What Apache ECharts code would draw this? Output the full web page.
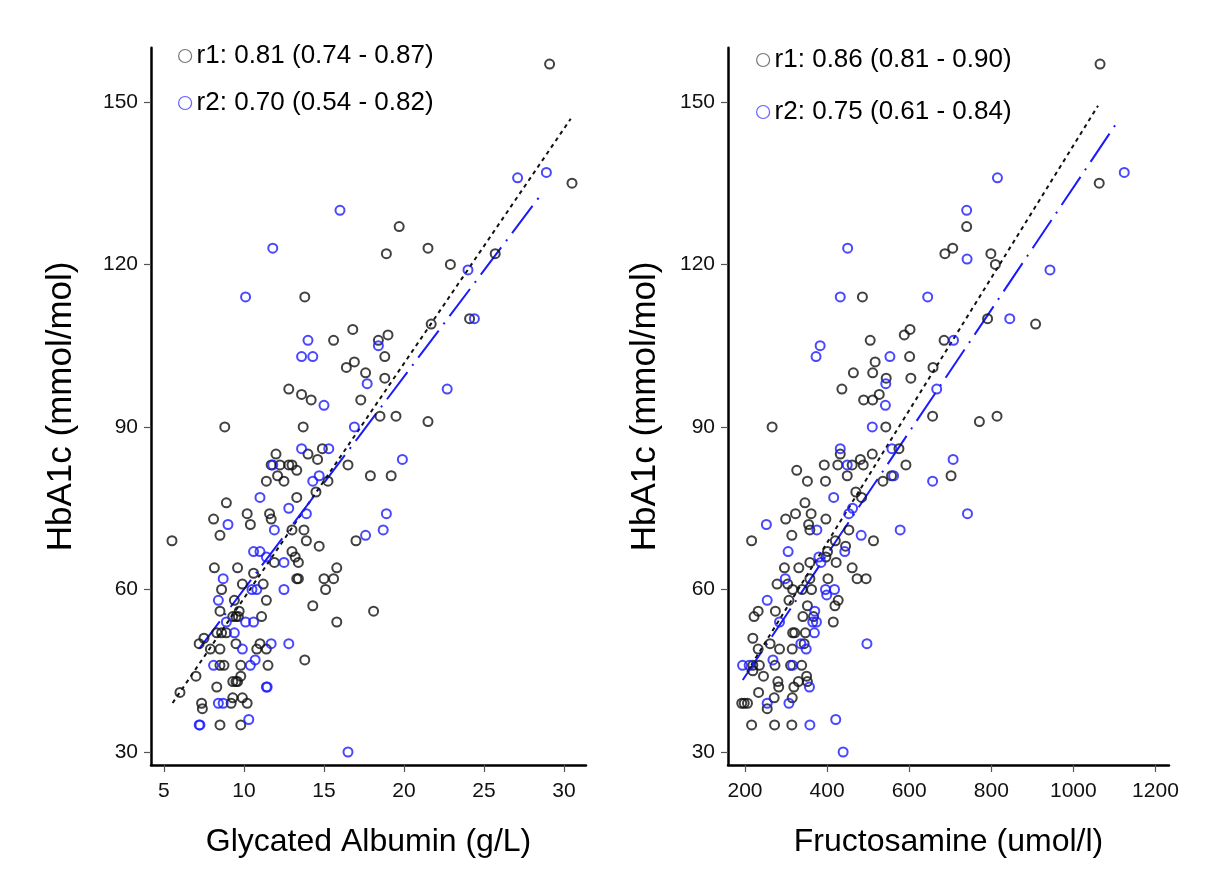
<!DOCTYPE html>
<html>
<head>
<meta charset="utf-8">
<script src="https://cdn.jsdelivr.net/npm/echarts@6/dist/echarts.min.js"></script>
<style>
html,body{margin:0;padding:0;background:#fff;}
#chart{width:1206px;height:879px;}
</style>
</head>
<body>
<div id="chart"></div>
<script>
// ---------- data ----------
const legendLeft = ['r1: 0.81 (0.74 - 0.87)', 'r2: 0.70 (0.54 - 0.82)'];
const legendRight = ['r1: 0.86 (0.81 - 0.90)', 'r2: 0.75 (0.61 - 0.84)'];
const titleLeftX = 'Glycated Albumin (g/L)';
const titleRightX = 'Fructosamine (umol/l)';
const titleY = 'HbA1c (mmol/mol)';
const ticksGA = [5, 10, 15, 20, 25, 30];
const ticksFru = [200, 400, 600, 800, 1000, 1200];
const ticksY = [30, 60, 90, 120, 150];

const gaGroup1 = [
 [29.1,157],[30.5,135],[19.7,127],[18.9,122],[21.5,123],[22.9,120],[25.7,122],
 [13.8,114],[16.8,108],[15.6,106],[16.4,101],[16.9,102],[17.6,100],[12.8,97],[13.6,96],[14.2,95],[17.3,95],
 [8.8,90],[13.7,90],[12.0,85],[14.0,85],[14.9,86],[14.6,84],[11.7,83],[12.25,83],[12.8,83],[13.0,83],[13.3,82],
 [12.1,81],[11.4,80],[12.5,80],[15.25,80],[16.5,83],[17.9,81],[19.2,81],
 [8.9,76],[13.3,77],[14.5,78],[10.2,74],[11.6,74],[11.7,73],[8.1,73],
 [24.1,110],[21.7,109],[18.4,106],[19.0,107],[18.8,103],[18.8,99],[18.5,92],[19.5,92],[21.5,91],
 [10.4,72],[8.5,70],[13.0,71],[13.75,71],[5.5,69],[13.9,69],[14.7,68],[17.0,69],[13.0,67],[13.2,66],[13.4,65],
 [11.9,65],[8.15,64],[9.6,64],[10.6,63],[15.8,64],[9.9,61],[11.2,61],[13.3,62],[13.4,62],[15.0,62],[15.6,62],
 [15.1,60],[8.6,60],[9.4,58],[11.4,58],[14.3,57],[8.5,56],[9.7,56],[9.3,55],[9.5,55],[9.65,55],[11.1,55],
 [15.8,54],[18.1,56],
 [7.5,51],[8.3,52],[8.6,52],[8.9,52],[7.2,50],[7.9,49],[8.5,49],[9.5,50],[11.0,50],[10.8,49],[11.4,49],
 [13.8,47],[8.5,46],[8.75,46],[9.8,46],[11.5,46],[7.0,44],[9.8,44],[9.3,43],[9.5,43],[9.6,43],[8.3,42],
 [6.0,41],[7.35,39],[7.4,38],[9.2,39],[9.3,40],[9.9,40],[10.2,39],[8.5,35],[9.8,35]
];
const gaGroup2 = [
 [27.1,136],[28.9,137],[16.0,130],[11.8,123],[24.0,119],[10.1,114],[14.0,106],[13.6,103],[14.3,103],
 [17.7,98],[15.0,94],[16.9,90],[13.6,86],[15.3,86],[11.8,83],[14.3,80],[14.7,81],[11.0,77],[12.8,75],
 [13.9,74],[24.4,110],[18.4,105],[22.7,97],[19.9,84],[18.9,74],[18.7,71],
 [9.0,72],[11.9,71],[17.6,70],[10.6,67],[11.0,67],[11.4,66],[12.5,65],[8.7,62],[10.5,60],[10.8,60],
 [12.5,60],[8.4,58],[8.9,54],[10.1,54],[10.6,54],[9.4,52],[9.9,49],[11.7,50],[12.8,50],[8.1,46],
 [10.4,46],[10.7,47],[11.4,42],[11.45,42],[8.4,39],[8.7,39],[7.2,35],[7.25,35],[10.3,36],[16.5,30]
];
const fruGroup1 = [
 [1065,157],[1063,135],[740,127],[687,122],[706,123],[799,122],[810,120],
 [486,114],[602,108],[588,107],[505,106],[685,106],[601,103],[517,102],[464,100],[511,100],[544,99],
 [658,101],[604,99],[436,97],[489,95],[511,95],[527,96],[657,92],[266,90],[543,90],[432,85],[575,86],
 [510,85],[326,82],[393,83],[426,83],[461,83],[488,83],[481,84],[592,83],[352,80],[396,80],[449,81],
 [536,80],[557,81],[702,81],[470,78],[484,77],[346,76],
 [791,110],[908,109],[771,91],[814,92],
 [323,74],[361,74],[299,73],[397,73],[355,72],[358,71],[314,70],[453,71],[216,69],[513,69],[420,69],
 [445,68],[401,67],[397,66],[358,65],[422,65],[296,64],[331,64],[461,64],[278,61],[304,61],[316,60],
 [339,60],[358,62],[362,60],[402,62],[473,62],[495,62],[427,58],[307,58],[419,57],[352,57],[232,56],
 [274,56],[222,55],[341,55],[367,55],[415,54],[316,52],[321,52],[347,52],[219,51],[261,50],[344,50],
 [232,49],[284,49],[315,49],[219,46],[235,46],[219,45],[245,44],[273,46],[311,46],[338,46],[280,43],
 [282,42],[319,42],[330,43],[350,44],[352,43],[233,41],[271,40],[315,40],[192,39],[198,39],[206,39],
 [254,38],[216,35],[272,35],[314,35]
];
const fruGroup2 = [
 [1124,137],[815,136],[740,130],[450,123],[741,121],[943,119],[432,114],[645,114],[708,106],[383,105],
 [373,103],[553,103],[543,98],[667,97],[542,94],[510,90],[432,86],[558,86],[707,84],[449,83],[562,81],
 [657,80],[416,77],[462,75],[453,74],[845,110],[742,74],
 [252,72],[375,71],[483,70],[578,71],[305,67],[443,67],[380,66],[385,65],[298,62],[396,60],[418,60],
 [399,59],[254,58],[370,56],[284,54],[365,54],[374,54],[369,52],[336,50],[349,49],[497,50],[194,46],
 [210,46],[268,47],[316,46],[357,42],[254,39],[307,39],[358,35],[421,36],[439,30]
];
// fitted regression lines (end points)
const gaFit1 = [[5.54,39.05],[30.42,146.9]];
const gaFit2 = [[7.21,49.1],[28.54,132.8]];
const fruFit1 = [[205,44.8],[1060,149.3]];
const fruFit2 = [[194.4,43.3],[1111.5,146.8]];

// ---------- style ----------
const FONT = '"Liberation Sans", Arial, Helvetica, sans-serif';
const BLACK = '#111111';
const BLUE = '#1a1aff';

function xAxisCfg(idx, min, max, ticks, name) {
  return {
    type: 'value', gridIndex: idx, min: min, max: max,
    name: name, nameLocation: 'middle', nameGap: 61,
    nameTextStyle: {fontFamily: FONT, fontSize: 32, color: '#000'},
    splitLine: {show: false},
    axisLine: {show: true, onZero: false, lineStyle: {color: '#000', width: 2.5}},
    axisTick: {show: true, inside: false, length: 7, customValues: ticks, lineStyle: {color: '#555', width: 1.2}},
    axisLabel: {show: true, customValues: ticks, margin: 16, fontFamily: FONT, fontSize: 21, color: '#111',
      formatter: function (v) { return String(v); }}
  };
}
function yAxisCfg(idx, nameGap) {
  return {
    type: 'value', gridIndex: idx, min: 27.6, max: 160,
    name: titleY, nameLocation: 'middle', nameGap: nameGap, nameRotate: 90,
    nameTextStyle: {fontFamily: FONT, fontSize: 35, color: '#000'},
    splitLine: {show: false},
    axisLine: {show: true, onZero: false, lineStyle: {color: '#000', width: 2.5}},
    axisTick: {show: true, inside: false, length: 7, customValues: ticksY, lineStyle: {color: '#555', width: 1.2}},
    axisLabel: {show: true, customValues: ticksY, margin: 13, fontFamily: FONT, fontSize: 21, color: '#111',
      formatter: function (v) { return String(v); }}
  };
}
function scatter(name, data, idx, color) {
  return {
    type: 'scatter', name: name, data: data, xAxisIndex: idx, yAxisIndex: idx,
    symbol: 'circle', symbolSize: 9,
    itemStyle: {color: 'rgba(0,0,0,0)', borderColor: color, borderWidth: 2},
    emphasis: {disabled: true}, z: 3
  };
}
function fit(data, idx, color, dash) {
  return {
    type: 'line', data: data, xAxisIndex: idx, yAxisIndex: idx,
    symbol: 'none', silent: true,
    lineStyle: {color: color, width: 2, type: dash},
    z: 2
  };
}
function legendCfg(names, left, top, gap) {
  return {
    orient: 'vertical', left: left, top: top, itemGap: gap,
    itemWidth: 13, itemHeight: 13, selectedMode: false,
    textStyle: {fontFamily: FONT, fontSize: 26, color: '#000', lineHeight: 30},
    data: [
      {name: names[0], icon: 'circle', itemStyle: {color: '#fff', borderColor: '#555', borderWidth: 1.2}},
      {name: names[1], icon: 'circle', itemStyle: {color: '#fff', borderColor: '#3a3aff', borderWidth: 1.2}}
    ]
  };
}

const chart = echarts.init(document.getElementById('chart'), null, {renderer: 'canvas'});
chart.setOption({
  backgroundColor: '#fff',
  animation: false,
  grid: [
    {left: 151, top: 47.8, width: 435, height: 717.2, outerBoundsMode: 'none', containLabel: false},
    {left: 728, top: 47.8, width: 441, height: 717.2, outerBoundsMode: 'none', containLabel: false}
  ],
  xAxis: [
    xAxisCfg(0, 4.19, 31.375, ticksGA, titleLeftX),
    xAxisCfg(1, 158.5, 1233, ticksFru, titleRightX)
  ],
  yAxis: [yAxisCfg(0, 72), yAxisCfg(1, 65)],
  legend: [
    legendCfg(legendLeft, 173, 36, 17),
    legendCfg(legendRight, 751, 40, 22)
  ],
  series: [
    fit(gaFit1, 0, BLACK, [4, 4]),
    fit(gaFit2, 0, BLUE, [34, 8, 2, 8]),
    scatter(legendLeft[0], gaGroup1, 0, BLACK),
    scatter(legendLeft[1], gaGroup2, 0, BLUE),
    fit(fruFit1, 1, BLACK, [4, 4]),
    fit(fruFit2, 1, BLUE, [34, 8, 2, 8]),
    scatter(legendRight[0], fruGroup1, 1, BLACK),
    scatter(legendRight[1], fruGroup2, 1, BLUE)
  ]
});
</script>
</body>
</html>
